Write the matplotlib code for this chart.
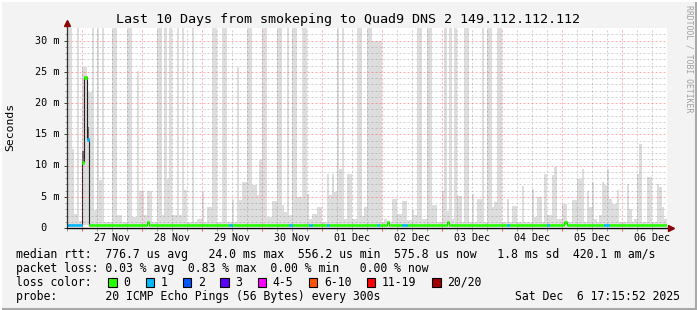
# Smokeping style latency chart (RRDtool look) - last 10 days to Quad9 DNS 2

import matplotlib
matplotlib.use('Agg')
import matplotlib.pyplot as plt
from matplotlib.patches import Rectangle
import numpy as np

# ---- data, one value per hour, starting Nov 26 18:00 ----
# top of the smoke (max rtt of the pings in that hour), milliseconds
smoke_top = [
    32, 32, 12.7, 2.3, 32, 1.1, 25.8, 25.8, 21.8, 21.8, 32, 2.9, 32, 7.7, 32, 1.0, 1.0, 1.0, 32, 32, 2.1, 2.1, 1.0, 1.0,
    32, 32, 1.7, 1.7, 25.1, 5.9, 5.9, 2.1, 5.9, 5.9, 1.0, 1.0, 32, 32, 2.1, 32, 7.8, 32, 2.1, 2.1, 32, 2.1, 32, 6.1,
    1.0, 1.0, 32, 1.0, 1.5, 1.5, 5.8, 1.0, 3.4, 3.4, 32, 32, 1.0, 1.0, 32, 32, 1.0, 1.0, 4.5, 1.0, 25.8, 4.5, 7.4, 7.4,
    32, 32, 6.9, 6.9, 5.3, 10.9, 32, 32, 1.8, 1.8, 4.4, 4.4, 32, 32, 3.7, 2.6, 32, 2.1, 32, 32, 5.0, 5.0, 32, 32,
    5.4, 1.5, 2.3, 2.3, 3.4, 3.4, 1.0, 1.0, 8.6, 5.3, 8.6, 5.8, 32, 9.5, 32, 1.5, 8.6, 8.6, 1.5, 1.5, 32, 32, 1.9, 3.4,
    32, 32, 30, 30, 30, 30, 1.0, 1.4, 1.0, 1.0, 4.7, 4.7, 2.2, 2.2, 4.4, 4.4, 1.3, 1.3, 2.9, 2.1, 32, 32, 1.5, 1.5,
    32, 32, 3.7, 3.7, 1.0, 1.0, 6.0, 32, 2.8, 32, 1.5, 32, 5.1, 5.1, 1.0, 32, 32, 1.0, 5.4, 1.0, 4.7, 4.7, 32, 1.0,
    32, 32, 3.3, 4.1, 32, 32, 1.0, 1.0, 4.7, 1.0, 3.5, 3.5, 1.0, 1.0, 6.7, 1.0, 1.0, 1.0, 6.3, 1.7, 4.9, 4.9, 1.0, 8.7,
    2.1, 2.1, 8.5, 9.7, 1.4, 1.4, 3.8, 3.9, 1.0, 1.0, 4.5, 4.5, 7.9, 7.9, 9.5, 1.0, 6.0, 3.4, 7.3, 1.5, 1.0, 2.1, 7.3, 6.9,
    9.4, 4.6, 3.9, 3.9, 6.1, 1.0, 1.0, 1.0, 7.1, 3.0, 1.0, 1.4, 8.6, 13.4, 1.0, 1.0, 8.1, 8.1, 1.0, 1.0, 7.0, 6.6, 3.4, 1.4,
]
smoke_floor = 0.45  # min rtt, ms

# median rtt, ms
median = [
    0.5, 0.5, 0.5, 0.5, 0.5, 0.5, 10.5, 24.1, 14.2, 0.5, 0.5, 0.5, 0.5, 0.5, 0.5, 0.5, 0.5, 0.5, 0.5, 0.5, 0.5, 0.5, 0.5, 0.5,
    0.5, 0.5, 0.5, 0.5, 0.5, 0.5, 0.5, 0.5, 0.9, 0.5, 0.5, 0.5, 0.5, 0.5, 0.5, 0.5, 0.5, 0.5, 0.5, 0.5, 0.5, 0.5, 0.5, 0.5,
    0.5, 0.5, 0.5, 0.5, 0.5, 0.5, 0.5, 0.5, 0.5, 0.5, 0.5, 0.5, 0.5, 0.5, 0.5, 0.5, 0.5, 0.5, 0.5, 0.5, 0.5, 0.5, 0.5, 0.5,
    0.5, 0.5, 0.5, 0.5, 0.5, 0.5, 0.5, 0.5, 0.5, 0.5, 0.5, 0.5, 0.5, 0.5, 0.5, 0.5, 0.5, 0.5, 0.5, 0.5, 0.5, 0.5, 0.5, 0.5,
    0.5, 0.5, 0.5, 0.5, 0.5, 0.5, 0.5, 0.5, 0.5, 0.5, 0.5, 0.5, 0.5, 0.5, 0.5, 0.5, 0.5, 0.5, 0.5, 0.5, 0.5, 0.5, 0.5, 0.5,
    0.5, 0.5, 0.5, 0.5, 0.5, 0.5, 0.5, 0.5, 0.9, 0.5, 0.5, 0.5, 0.5, 0.5, 0.5, 0.5, 0.5, 0.5, 0.5, 0.5, 0.5, 0.5, 0.5, 0.5,
    0.5, 0.5, 0.5, 0.5, 0.5, 0.5, 0.5, 0.5, 0.9, 0.5, 0.5, 0.5, 0.5, 0.5, 0.5, 0.5, 0.5, 0.5, 0.5, 0.5, 0.5, 0.5, 0.5, 0.5,
    0.5, 0.5, 0.5, 0.5, 0.5, 0.5, 0.5, 0.5, 0.5, 0.5, 0.5, 0.5, 0.5, 0.5, 0.5, 0.5, 0.5, 0.5, 0.5, 0.5, 0.5, 0.5, 0.5, 0.5,
    0.5, 0.5, 0.5, 0.5, 0.5, 0.5, 0.5, 0.9, 0.5, 0.5, 0.5, 0.5, 0.5, 0.5, 0.5, 0.5, 0.5, 0.5, 0.5, 0.5, 0.5, 0.5, 0.5, 0.5,
    0.5, 0.5, 0.5, 0.5, 0.5, 0.5, 0.5, 0.5, 0.5, 0.5, 0.5, 0.5, 0.5, 0.5, 0.5, 0.5, 0.5, 0.5, 0.5, 0.5, 0.5, 0.5, 0.5, 0.5,
]

# lost pings (out of 20) per hour
loss = [
    1, 1, 1, 1, 1, 1, 0, 0, 1, 0, 0, 0, 0, 0, 0, 0, 0, 0, 0, 0, 0, 0, 0, 0,
    0, 0, 0, 0, 0, 0, 0, 0, 0, 0, 0, 0, 0, 0, 0, 0, 0, 0, 0, 0, 0, 0, 0, 0,
    0, 0, 0, 0, 0, 0, 0, 0, 0, 0, 0, 0, 0, 0, 0, 0, 0, 1, 0, 0, 0, 0, 0, 0,
    0, 0, 0, 0, 0, 0, 0, 0, 0, 0, 0, 0, 0, 0, 0, 0, 0, 1, 0, 0, 0, 0, 0, 0,
    0, 1, 0, 0, 0, 0, 0, 0, 1, 0, 0, 0, 0, 0, 0, 0, 0, 0, 0, 0, 0, 0, 0, 0,
    0, 0, 0, 0, 1, 0, 0, 0, 0, 0, 0, 0, 0, 0, 1, 1, 0, 0, 0, 0, 0, 0, 0, 0,
    0, 0, 0, 0, 0, 0, 0, 0, 0, 0, 0, 0, 0, 0, 0, 0, 0, 0, 0, 0, 0, 0, 0, 0,
    0, 0, 0, 0, 0, 0, 0, 0, 1, 0, 0, 0, 0, 0, 0, 0, 0, 0, 0, 0, 0, 0, 0, 0,
    1, 0, 0, 0, 0, 0, 0, 0, 0, 0, 0, 0, 0, 0, 0, 0, 0, 0, 0, 0, 0, 0, 0, 1,
    1, 0, 0, 0, 0, 0, 0, 0, 0, 0, 0, 0, 0, 0, 0, 0, 0, 0, 0, 0, 0, 0, 0, 0,
]

# darker smoke around the median during the spike
dark_hours = [6, 8]
dark_low = [10.5, 14.2]
dark_high = [12.3, 16.1]

day_labels = ["27 Nov", "28 Nov", "29 Nov", "30 Nov", "01 Dec",
              "02 Dec", "03 Dec", "04 Dec", "05 Dec", "06 Dec"]
first_midnight = 6  # hours after the left edge

loss_names = ["0", "1", "2", "3", "4-5", "6-10", "11-19", "20/20"]
loss_colors = ["#26ff00", "#00b8ff", "#0059ff", "#5e00ff", "#ff00ff",
               "#ff5500", "#ff0000", "#a10000"]

title = "Last 10 Days from smokeping to Quad9 DNS 2 149.112.112.112"
legend_lines = [
    "median rtt:  776.7 us avg   24.0 ms max  556.2 us min  575.8 us now   1.8 ms sd  420.1 m am/s",
    "packet loss: 0.03 % avg  0.83 % max  0.00 % min   0.00 % now",
]
probe_line = "probe:       20 ICMP Echo Pings (56 Bytes) every 300s"
stamp = "Sat Dec  6 17:15:52 2025"

# ---- drawing ----
W, H = 697, 310
MONO = "DejaVu Sans Mono"


def fx(x):
    return x / W


def fy(y):
    return 1 - y / H


fig = plt.figure(figsize=(W / 100, H / 100), dpi=100, facecolor="#f3f3f3")

# 3d-ish frame around the canvas
fig.add_artist(plt.Line2D([0, 1], [fy(308.5)] * 2, color="#a9a9a9", lw=2.2, transform=fig.transFigure))
fig.add_artist(plt.Line2D([fx(695.5)] * 2, [0, 1], color="#a9a9a9", lw=2.2, transform=fig.transFigure))
fig.add_artist(plt.Line2D([0, 1], [fy(0.5)] * 2, color="#ffffff", lw=1.4, transform=fig.transFigure))
fig.add_artist(plt.Line2D([fx(0.5)] * 2, [0, 1], color="#ffffff", lw=1.4, transform=fig.transFigure))

ax = fig.add_axes([fx(66.5), fy(228), 600 / W, 200 / H])
ax.set_facecolor("white")
n = len(smoke_top)
ax.set_xlim(0, n)
ax.set_ylim(0, 32)
for s in ax.spines.values():
    s.set_visible(False)

edges = np.arange(n + 1)
top = np.array(smoke_top)
ax.fill_between(edges, smoke_floor, np.append(top, top[-1]), step="post",
                color="#dddddd", lw=0, zorder=1)
ax.bar(dark_hours, np.array(dark_high) - np.array(dark_low), bottom=dark_low,
       width=1, align="edge", color="#6e6e6e", lw=0, zorder=1.2)

med = np.array(median)
ax.step(edges, np.append(med, med[-1]), where="post", color="#202020", lw=0.8, zorder=1.5)
lo = np.array(loss)
for k, c in enumerate(loss_colors):
    m = lo == k
    if m.any():
        ax.bar(np.arange(n)[m], 0.4, bottom=med[m] - 0.2, width=1, align="edge",
               color=c, edgecolor=c, lw=0.4, zorder=3)

# grid + ticks
day_hours = list(range(first_midnight, n, 24))
ax.set_xticks(day_hours)
ax.set_xticks([h for h in range(0, n, 6) if h not in day_hours], minor=True)
ax.set_yticks(range(0, 31, 5))
ax.set_yticks([v for v in range(0, 32) if v % 5], minor=True)
ax.tick_params(labelbottom=False, labelleft=False)
ax.tick_params(axis="x", which="major", length=2.5, width=0.7, color="#ff5050")
ax.tick_params(axis="x", which="minor", length=2, width=0.7, color="#a0a0a0")
ax.tick_params(axis="y", which="major", length=2.5, width=0.7, color="#404040")
ax.tick_params(axis="y", which="minor", length=1.5, width=0.6, color="#909090")
ax.set_axisbelow(False)
ax.grid(which="major", color="#ff3030", alpha=0.4, lw=0.72, ls=(0, (2, 2)))
ax.grid(which="minor", color="#808080", alpha=0.35, lw=0.72, ls=(0, (2, 2)))

# axes with arrows
ax.plot([0, 0], [0, 1.015], transform=ax.transAxes, color="#303030", lw=0.9, clip_on=False, zorder=6)
ax.plot([0, 1.003], [0, 0], transform=ax.transAxes, color="#000000", lw=1.0, clip_on=False, zorder=6)
ax.plot(0, 1.0235, marker="^", ms=4.5, color="#8b0000", transform=ax.transAxes, clip_on=False, zorder=7)
ax.plot(1.0067, 0, marker=">", ms=4.5, color="#8b0000", transform=ax.transAxes, clip_on=False, zorder=7)

# tick labels
for v in range(0, 31, 5):
    lab = f"{v:2d} m" if v else " 0"
    ax.text(-(66.5 - 35) / 600, v, lab, transform=ax.get_yaxis_transform(),
            ha="left", va="center", fontsize=7.3, family=MONO)
for h, lab in zip(day_hours, day_labels):
    ax.text(h + 12, -0.0515, lab, transform=ax.get_xaxis_transform(),
            ha="center", va="center", fontsize=7.2, family=MONO)

# titles
fig.text(0.5, fy(19), title, ha="center", va="center", fontsize=9.6, family=MONO)
fig.text(fx(10.5), fy(127), "Seconds", rotation=90, ha="center", va="center",
         fontsize=8.2, family=MONO)
fig.text(fx(689.5), fy(59), "RRDTOOL / TOBI OETIKER", rotation=-90, ha="center",
         va="center", fontsize=5.9, family=MONO, color="#a0a0a0")

# legend
CW = 6.94
for i, line in enumerate(legend_lines):
    fig.text(fx(16), fy(254.3 + 14 * i), line, ha="left", va="center", fontsize=8.3, family=MONO)
fig.text(fx(16), fy(282.3), "loss color:", ha="left", va="center", fontsize=8.3, family=MONO)
bx = 108.3
for name, c in zip(loss_names, loss_colors):
    fig.add_artist(Rectangle((fx(bx), fy(286.7)), 8.4 / W, 8.4 / H, transform=fig.transFigure,
                             facecolor=c, edgecolor="black", lw=0.8))
    fig.text(fx(bx + 15), fy(282.3), name, ha="left", va="center", fontsize=8.3, family=MONO)
    bx += 15 + len(name) * CW + 15.4
fig.text(fx(16), fy(296.2), probe_line, ha="left", va="center", fontsize=8.3, family=MONO)
fig.text(fx(680), fy(296.2), stamp, ha="right", va="center", fontsize=8.3, family=MONO)

fig.savefig("out.png", dpi=100, facecolor=fig.get_facecolor())
